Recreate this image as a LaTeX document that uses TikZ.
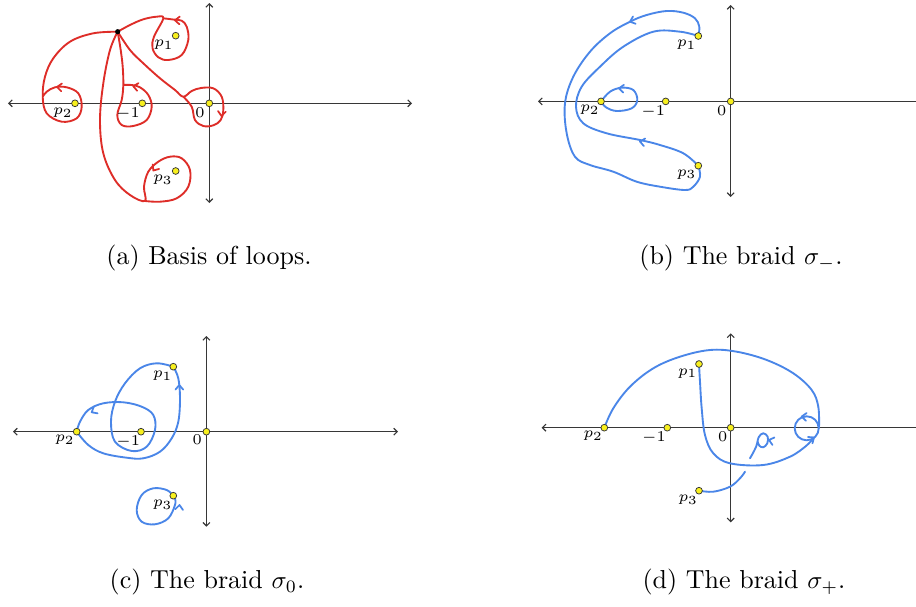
\documentclass[tikz,border=0pt]{standalone}
\usetikzlibrary{arrows.meta}
\definecolor{myred}{RGB}{222,45,40}
\definecolor{myblue}{RGB}{74,134,232}
\definecolor{axgray}{RGB}{55,55,55}
\definecolor{dotyellow}{RGB}{248,240,30}
\newcommand{\mychev}[4]{\draw[chevline,#1] (#2,#3) +(#4+140:6) -- (#2,#3) -- +(#4-140:6);}
\begin{document}
\begin{tikzpicture}[x=0.4pt,y=-0.4pt,
 axis/.style={draw=axgray,line width=0.45pt,{Straight Barb[length=1.4pt,width=2.8pt]}-{Straight Barb[length=1.4pt,width=2.8pt]}},
 axisl/.style={draw=axgray,line width=0.45pt,{Straight Barb[length=1.4pt,width=2.8pt]}-},
 rpath/.style={myred,line width=0.75pt,line cap=round,line join=round},
 bpath/.style={myblue,line width=0.75pt,line cap=round,line join=round},
 chevline/.style={line width=0.7pt,line cap=round,line join=round},
 ydot/.style={circle,fill=dotyellow,draw=axgray,line width=0.3pt,inner sep=0pt,minimum size=2.7pt},
 lbl/.style={font=\fontsize{5.8}{7}\selectfont,inner sep=0pt},
 captxt/.style={font=\fontsize{10.4}{12.5}\selectfont,inner sep=0pt}]
\fill[white] (0,0) rectangle (916,607);
\useasboundingbox (0,0) rectangle (916,607);

% ---------------- panel (a)
\coordinate (aO) at (209.3,103.3);
\coordinate (aM) at (142.3,103.3);
\coordinate (aP2) at (75,103.3);
\coordinate (aP1) at (175.7,35.7);
\coordinate (aP3) at (175.7,171);
\coordinate (aB) at (117.7,31.7);
\coordinate (aXl) at (8,103.3); \coordinate (aXr) at (412,103.3);
\coordinate (aYt) at (209.3,3); \coordinate (aYb) at (209.3,203);
\draw[axis] (aXl) -- (aXr);
\draw[axis] (aYt) -- (aYb);
% loop around p1
\draw[rpath] plot[smooth,tension=0.6] coordinates {(aB) (130,25) (143.3,19.3) (156.7,16.7) (163.3,18.3) (154,36.7) (152.5,48) (158.3,57.3) (168.3,60) (181.7,55) (188.3,40) (186.7,26.7) (181.7,20.7) (174,19.6) (163.3,18.3)};
% loop around 0
\draw[rpath] plot[smooth,tension=0.6] coordinates {(aB) (130,50) (143.3,63.3) (160,78.3) (175,90) (183.3,96.7) (191.7,91) (201,88) (213.3,88.3) (221.7,96.7) (223.3,110) (220.7,120) (213.3,125.3) (203.3,126) (195,120) (191.7,106.7) (183.3,96.7)};
% loop around -1
\draw[rpath] plot[smooth,tension=0.6] coordinates {(aB) (120.7,50) (122.7,66.7) (123.3,85) (121.7,100) (117.3,115) (121.7,125) (133.3,126) (146.7,120) (151.7,106.7) (148.3,95) (140,87.3) (131.7,85) (123.3,85)};
% loop around p2
\draw[rpath] plot[smooth,tension=0.6] coordinates {(aB) (93.3,33.3) (70,41.7) (53.3,58.3) (45,76.7) (42.7,96.7) (46.7,113.3) (61.7,121.7) (76.7,118.3) (81.7,106.7) (78.3,93.3) (66.7,87.3) (55,87.3) (46.7,91.7) (42.7,96.7)};
% loop around p3
\draw[rpath] plot[smooth,tension=0.6] coordinates {(aB) (110,50) (103.3,83.3) (100,120) (103.3,153.3) (115,180) (130,195) (145,201) (144,186.7) (148.3,171.7) (158.3,161.7) (170,156.7) (181.7,158.3) (190,170) (188.3,186.7) (176.7,198.3) (160,201.7) (145,201)};
\mychev{myred}{175}{20.3}{182}
\mychev{myred}{221.5}{116}{95}
\mychev{myred}{133.3}{86.2}{190}
\mychev{myred}{57}{87}{185}
\mychev{myred}{153.3}{170.5}{125}
\fill[black] (aB) circle[radius=2.6];
\node[ydot] (aOd) at (aO) {};
\node[ydot] (aMd) at (aM) {};
\node[ydot] (aP2d) at (aP2) {};
\node[ydot] (aP1d) at (aP1) {};
\node[ydot] (aP3d) at (aP3) {};
\node[lbl] (aP1l) at (164,45) {$p_1$};
\node[lbl] (aP2l) at (63,113) {$p_2$};
\node[lbl] (aMl) at (128,114) {$-1$};
\node[lbl] (aOl) at (200,113) {$0$};
\node[lbl] (aP3l) at (163,180) {$p_3$};
\node[captxt] (capa) at (209,258) {(a) Basis of loops.};

% ---------------- panel (b)
\coordinate (bO) at (730.7,101.4);
\coordinate (bM) at (665.7,101.4);
\coordinate (bP2) at (601,101.4);
\coordinate (bP1) at (698.3,36);
\coordinate (bP3) at (698.3,165.7);
\coordinate (bXl) at (538,101.4); \coordinate (bXr) at (918,101.4);
\coordinate (bYt) at (730.7,5); \coordinate (bYb) at (730.7,197);
\draw[axisl] (bXl) -- (bXr);
\draw[axis] (bYt) -- (bYb);
\draw[bpath] plot[smooth,tension=0.6] coordinates {(bP1) (699.3,26.7) (695,18.3) (683.3,12.7) (666.7,11) (646.7,15) (630,21.7) (610,33.3) (590,51.7) (573.3,76.7) (565,103.3) (566.7,133.3) (575,156.7) (590,165) (613.3,171.7) (636.7,181.7) (660,186.7) (685,190) (693.3,186.7) (700,176.7) (bP3)};
\draw[bpath] plot[smooth,tension=0.6] coordinates {(bP1) (680,31.7) (653.3,31.7) (623.3,46.7) (600,66.7) (581.7,86.7) (576,106.7) (583.3,123.3) (606.7,133.3) (640,140) (660,145) (683.3,153.3) (bP3)};
\draw[bpath] plot[smooth,tension=0.6] coordinates {(bP2) (610,91.7) (621.7,87.7) (633.3,90) (637.3,100) (631.7,108.3) (616.7,111) (606,107.3) (bP2)};
\mychev{myblue}{630}{21.7}{160}
\mychev{myblue}{640}{141.5}{190}
\mychev{myblue}{619}{88.3}{185}
\node[ydot] (bOd) at (bO) {};
\node[ydot] (bMd) at (bM) {};
\node[ydot] (bP2d) at (bP2) {};
\node[ydot] (bP1d) at (bP1) {};
\node[ydot] (bP3d) at (bP3) {};
\node[lbl] (bP1l) at (686.7,45) {$p_1$};
\node[lbl] (bP2l) at (590,110) {$p_2$};
\node[lbl] (bMl) at (653.3,111.7) {$-1$};
\node[lbl] (bOl) at (721.7,111) {$0$};
\node[lbl] (bP3l) at (686.7,174.3) {$p_3$};
\node[captxt] (capb) at (741,258) {(b) The braid $\sigma_-$.};

% ---------------- panel (c)
\coordinate (cO) at (206.4,431.7);
\coordinate (cM) at (141,431.7);
\coordinate (cP2) at (76.7,431.7);
\coordinate (cP1) at (173.3,366.7);
\coordinate (cP3) at (173.3,495.7);
\coordinate (cXl) at (13,431.7); \coordinate (cXr) at (398,431.7);
\coordinate (cYt) at (206.4,336); \coordinate (cYb) at (206.4,526.7);
\draw[axis] (cXl) -- (cXr);
\draw[axis] (cYt) -- (cYb);
\draw[bpath] plot[smooth,tension=0.6] coordinates {(cP1) (156.7,363.3) (140,368.3) (125,383.3) (115,401.7) (111,421.7) (115,441.7) (131.7,451) (146.7,446.7) (155,430) (153.3,415) (141.7,406.7) (123.3,402.3) (103.3,403.3) (88.3,410) (80,421.7) (cP2)};
\draw[bpath] plot[smooth,tension=0.6] coordinates {(cP2) (88.3,445) (103.3,453.3) (126.7,457.7) (143.3,458.3) (160,451.7) (171.7,438.3) (178.3,421.7) (180,398.3) (178.3,378.3) (cP1)};
\draw[bpath] plot[smooth,tension=0.6] coordinates {(cP3) (166.7,490) (153.3,488.3) (141.7,495) (136.7,510) (141.7,521.7) (155,524.3) (168.3,518.3) (175,505) (175,498.3) (cP3)};
\mychev{myblue}{91.7}{412.3}{150}
\mychev{myblue}{179.3}{385}{270}
\mychev{myblue}{179.5}{505}{275}
\node[ydot] (cOd) at (cO) {};
\node[ydot] (cMd) at (cM) {};
\node[ydot] (cP2d) at (cP2) {};
\node[ydot] (cP1d) at (cP1) {};
\node[ydot] (cP3d) at (cP3) {};
\node[lbl] (cP1l) at (162.7,376) {$p_1$};
\node[lbl] (cP2l) at (65,440) {$p_2$};
\node[lbl] (cMl) at (128.3,441.7) {$-1$};
\node[lbl] (cOl) at (197.3,440) {$0$};
\node[lbl] (cP3l) at (162.7,505) {$p_3$};
\node[captxt] (capc) at (207,582) {(c) The braid $\sigma_0$.};

% ---------------- panel (d)
\coordinate (dO) at (730.7,427.7);
\coordinate (dM) at (667.3,427.7);
\coordinate (dP2) at (604.3,427.7);
\coordinate (dP1) at (699,364);
\coordinate (dP3) at (699,490.7);
\coordinate (dC) at (806.7,428.3);
\coordinate (dXl) at (541.7,427.7); \coordinate (dXr) at (918,427.7);
\coordinate (dYt) at (730.7,333.3); \coordinate (dYb) at (730.7,522.3);
\draw[axisl] (dXl) -- (dXr);
\draw[axis] (dYt) -- (dYb);
\draw[bpath] plot[smooth,tension=0.6] coordinates {(dP2) (613.3,408.3) (630,386.7) (653.3,368.3) (680,356.7) (710,350) (736.7,351.7) (766.7,360) (793.3,373.3) (811.7,390) (818.3,406.7) (819,428)};
\draw[bpath] (dC) circle[radius=12];
\draw[bpath] plot[smooth,tension=0.6] coordinates {(812.5,439) (806,446) (790,456.7) (763.3,465) (730,463.3) (713.3,453.3) (705,435) (701.7,408.3) (700,381.7) (dP1)};
\draw[bpath] plot[smooth,tension=0.6] coordinates {(dP3) (713.3,491.7) (730,486.7) (740,478.3) (745,471.7)};
\draw[bpath] plot[smooth,tension=0.6] coordinates {(750,458.3) (756,447) (758.8,437) (763.3,433.3) (767.7,436.7) (767.3,443.3) (763.3,447.3) (759.3,445.7) (757.7,441.7)};
\mychev{myblue}{801.7}{416.5}{185}
\mychev{myblue}{814}{437.5}{-35}
\mychev{myblue}{769}{440}{195}
\node[ydot] (dOd) at (dO) {};
\node[ydot] (dMd) at (dM) {};
\node[ydot] (dP2d) at (dP2) {};
\node[ydot] (dP1d) at (dP1) {};
\node[ydot] (dP3d) at (dP3) {};
\node[lbl] (dP1l) at (687.7,373.3) {$p_1$};
\node[lbl] (dP2l) at (593.3,436) {$p_2$};
\node[lbl] (dMl) at (654,437.3) {$-1$};
\node[lbl] (dOl) at (722.7,436.7) {$0$};
\node[lbl] (dP3l) at (688.3,500) {$p_3$};
\node[captxt] (capd) at (744,582) {(d) The braid $\sigma_+$.};
\end{tikzpicture}
\end{document}
